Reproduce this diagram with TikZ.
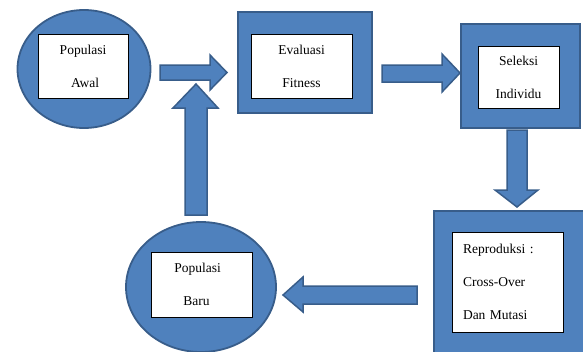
\documentclass[tikz,border=0pt]{standalone}
\usepackage{fontspec}
\setmainfont{Liberation Serif}
\usetikzlibrary{shapes.geometric}
\definecolor{offblue}{HTML}{4F81BD}
\definecolor{offedge}{HTML}{385D8A}
\tikzset{
  blueshape/.style={fill=offblue, draw=offedge, line width=1.8pt},
  blueellipse/.style={blueshape, ellipse, inner sep=0pt},
  bluebox/.style={blueshape, rectangle, inner sep=0pt},
  whitebox/.style={fill=white, draw=black, line width=0.8pt, rectangle, inner sep=0pt,
     font=\fontsize{13.5}{33}\selectfont},
  blockarrow/.style={blueshape, line width=1.5pt, line join=miter}
}
\begin{document}
\begin{tikzpicture}[x=1pt,y=-1pt]
\useasboundingbox (0,0) rectangle (583,351);
\begin{scope}
\clip (0,0) rectangle (583,351);
% shapes
\node[blueellipse, minimum width=133pt, minimum height=118pt] (awalE) at (84,69) {};
\node[whitebox, minimum width=90pt, minimum height=64pt, align=center] (awal) at (83,66) {Populasi\\\hspace*{4pt}Awal};

\node[bluebox, minimum width=134pt, minimum height=101pt] (evalB) at (305,62.5) {};
\node[whitebox, minimum width=101pt, minimum height=64pt, align=center] (eval) at (301.5,66) {Evaluasi\\Fitness};

\node[bluebox, minimum width=119pt, minimum height=104pt] (selB) at (520.5,76) {};
\node[whitebox, minimum width=81pt, minimum height=62pt, align=center] (sel) at (518.5,77) {Seleksi\\Individu};

\node[bluebox, minimum width=160pt, minimum height=160pt, anchor=north west] (repB) at (433,210) {};
\node[whitebox, minimum width=111pt, minimum height=100pt, text width=89pt, align=left] (rep) at (507.5,282) {Reproduksi :\\Cross-Over\\Dan Mutasi};

\node[blueellipse, minimum width=150pt, minimum height=130pt] (baruE) at (201,287) {};
\node[whitebox, minimum width=101pt, minimum height=65pt, align=center] (baru) at (201.5,284.5) {\hspace*{-8pt}Populasi\\\hspace*{-10pt}Baru};

% block arrows
\draw[blockarrow] (160,65) -- (210,65) -- (210,55) -- (227,72.5) -- (210,90) -- (210,80) -- (160,80) -- cycle;
\draw[blockarrow] (185,215) -- (185,108) -- (173,108) -- (196,84) -- (218,108) -- (207,108) -- (207,215) -- cycle;
\draw[blockarrow] (382,65) -- (442,65) -- (442,54) -- (460,73) -- (442,92) -- (442,82) -- (382,82) -- cycle;
\draw[blockarrow] (507,130) -- (527,130) -- (527,190) -- (538,190) -- (517,207) -- (495,190) -- (507,190) -- cycle;
\draw[blockarrow] (417,286) -- (303,286) -- (303,277) -- (283,295) -- (303,312) -- (303,304) -- (417,304) -- cycle;
\end{scope}
\end{tikzpicture}
\end{document}
